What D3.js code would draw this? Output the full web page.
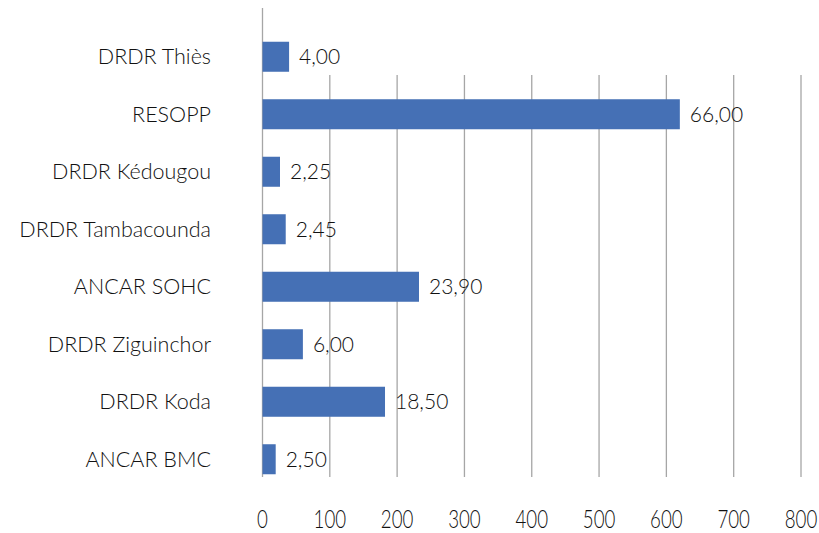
<!DOCTYPE html>
<html>
<head>
<meta charset="utf-8">
<script src="https://cdn.jsdelivr.net/npm/d3@7"></script>
<style>
  html, body { margin: 0; padding: 0; background: #fff; }
  svg { display: block; }
</style>
</head>
<body>
<svg id="chart" width="819" height="533"></svg>
<script>
// Categories (top to bottom)
const categories = ["DRDR Thiès", "RESOPP", "DRDR Kédougou", "DRDR Tambacounda",
                    "ANCAR SOHC", "DRDR Ziguinchor", "DRDR Koda", "ANCAR BMC"];
// Bar lengths as drawn on the axis
const values = [39.5, 620, 26, 34.5, 232.5, 60, 182, 19.6];
// Data labels as printed next to the bars
const labels = ["4,00", "66,00", "2,25", "2,45", "23,90", "6,00", "18,50", "2,50"];
// Axis tick values
const ticks = [0, 100, 200, 300, 400, 500, 600, 700, 800];

const svg = d3.select("#chart");

const x = d3.scaleLinear().domain([0, 800]).range([262.5, 801]);
const y = d3.scaleBand().domain(categories).range([28, 488])
  .paddingInner(0.478).paddingOuter(0.239);

// Gridlines
svg.append("g").selectAll("line")
  .data(ticks.filter(t => t > 0))
  .join("line")
  .attr("x1", d => x(d)).attr("x2", d => x(d))
  .attr("y1", 75).attr("y2", 477)
  .attr("stroke", "#a6a6a6").attr("stroke-width", 1.3);

// Vertical axis line at zero
svg.append("line")
  .attr("x1", x(0)).attr("x2", x(0))
  .attr("y1", 8).attr("y2", 477)
  .attr("stroke", "#a6a6a6").attr("stroke-width", 1.3);

// Bars
svg.append("g").selectAll("rect")
  .data(categories)
  .join("rect")
  .attr("x", x(0))
  .attr("y", d => y(d))
  .attr("width", (d, i) => x(values[i]) - x(0))
  .attr("height", y.bandwidth())
  .attr("fill", "#4570B5");

// Data labels
svg.append("g").selectAll("text")
  .data(categories)
  .join("text")
  .attr("x", (d, i) => x(values[i]) + 10)
  .attr("y", d => y(d) + y.bandwidth() / 2)
  .attr("dy", "0.36em")
  .attr("font-family", "Lato, 'Open Sans', sans-serif")
  .attr("font-weight", 300)
  .attr("font-size", 21)
  .attr("fill", "#111")
  .text((d, i) => labels[i]);

// Category labels
svg.append("g").selectAll("text")
  .data(categories)
  .join("text")
  .attr("x", 211)
  .attr("y", d => y(d) + y.bandwidth() / 2)
  .attr("dy", "0.36em")
  .attr("text-anchor", "end")
  .attr("font-family", "Lato, 'Open Sans', sans-serif")
  .attr("font-weight", 300)
  .attr("font-size", 21.5)
  .attr("fill", "#111")
  .text(d => d);

// X tick labels (condensed look)
svg.append("g").selectAll("text")
  .data(ticks)
  .join("text")
  .attr("transform", d => `translate(${x(d)},528) scale(0.72,1)`)
  .attr("text-anchor", "middle")
  .attr("font-family", "Lato, 'Open Sans', sans-serif")
  .attr("font-weight", 300)
  .attr("font-size", 26)
  .attr("fill", "#111")
  .text(d => d);
</script>
</body>
</html>
